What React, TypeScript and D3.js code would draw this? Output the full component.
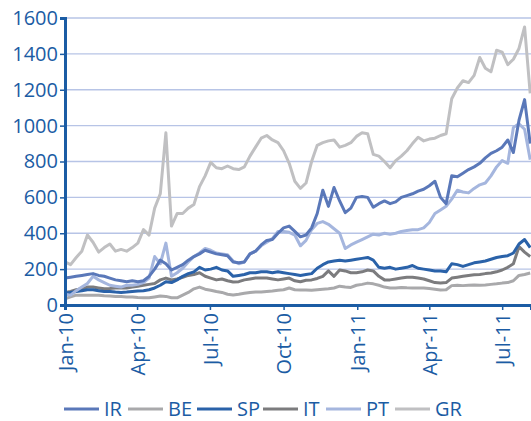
import { useEffect, useRef } from "react";
import * as d3 from "d3";

// weekly observations, starting 1 Jan 2010
const IR = [
  150, 155, 160, 165, 170, 175, 165, 160, 150, 140, 135, 130, 135, 130, 135, 160,
  200, 250, 230, 195, 210, 225, 250, 270, 285, 305, 295, 285, 280, 275, 240, 235,
  240, 285, 300, 335, 360, 365, 400, 430, 440, 410, 380, 390, 430, 510, 640, 550,
  655, 580, 515, 540, 600, 605, 600, 545, 565, 580, 565, 575, 600, 610, 620, 635,
  645, 665, 690, 600, 565, 720, 715, 735, 755, 770, 790, 820, 845, 860, 880, 920,
  850, 1030, 1145, 900,
];
const BE = [
  35, 45, 55, 55, 55, 55, 55, 52, 50, 48, 47, 45, 45, 42, 40, 40,
  45, 50, 48, 40, 40, 55, 70, 90, 100, 88, 82, 75, 70, 60, 56, 60,
  65, 70, 72, 72, 75, 78, 82, 85, 95, 85, 84, 84, 82, 85, 88, 90,
  95, 105, 100, 98, 110, 115, 122, 118, 110, 100, 95, 95, 98, 96, 95, 95,
  95, 92, 88, 84, 85, 108, 110, 108, 110, 112, 110, 112, 115, 118, 122, 125,
  135, 165, 170, 178,
];
const SP = [
  65, 70, 75, 80, 85, 85, 80, 75, 75, 72, 70, 72, 75, 78, 80, 85,
  95, 110, 130, 125, 140, 160, 175, 185, 210, 195, 200, 210, 195, 190, 160, 165,
  170, 180, 180, 185, 185, 180, 185, 180, 175, 170, 165, 170, 175, 205, 225, 240,
  245, 250, 245, 250, 255, 260, 265, 250, 210, 205, 210, 200, 205, 210, 220, 205,
  200, 195, 190, 190, 185, 230, 225, 215, 225, 235, 240, 245, 255, 265, 270, 275,
  290, 340, 365, 320,
];
const IT = [
  70, 75, 85, 90, 100, 100, 95, 90, 92, 95, 95, 95, 100, 105, 110, 115,
  120, 140, 150, 140, 145, 155, 165, 170, 180, 160, 150, 140, 145, 135, 128, 130,
  140, 145, 150, 150, 150, 145, 140, 145, 150, 135, 130, 138, 140, 148, 160, 190,
  160, 195, 190, 180, 180, 185, 195, 190, 160, 140, 140, 145, 150, 155, 155, 150,
  145, 135, 125, 122, 125, 150, 155, 160, 165, 168, 170, 175, 178, 185, 195, 210,
  230, 325, 295, 270,
];
const PT = [
  60, 55, 80, 100, 120, 160, 140, 125, 110, 105, 100, 110, 110, 115, 125, 150,
  270, 230, 345, 160, 180, 205, 240, 270, 290, 315, 305, 290, 285, 280, 245, 230,
  240, 285, 300, 330, 350, 370, 410, 410, 405, 390, 330, 360, 420, 455, 465, 450,
  425, 400, 315, 335, 350, 365, 380, 395, 390, 400, 395, 400, 410, 415, 420, 420,
  430, 460, 510, 530, 550, 590, 640, 630, 625, 650, 670, 680, 720, 770, 805, 790,
  990, 1010, 980, 810,
];
const GR = [
  240, 225, 265, 300, 390, 350, 295, 320, 340, 300, 310, 300, 320, 345, 420, 390,
  540, 620, 960, 440, 510, 510, 540, 560, 660, 720, 795, 765, 760, 775, 760, 755,
  770, 830, 880, 930, 945, 920, 905, 860, 790, 690, 650, 680, 800, 890, 905, 915,
  920, 880, 890, 905, 940, 960, 955, 840, 830, 800, 765, 805, 830, 860, 900, 935,
  915, 925, 930, 945, 955, 1150, 1210, 1250, 1240, 1280, 1380, 1320, 1300, 1420, 1410, 1340,
  1370, 1430, 1550, 1180,
];

const yTicks = [0, 200, 400, 600, 800, 1000, 1200, 1400, 1600];
const xTickLabels = ["Jan-10", "Apr-10", "Jul-10", "Oct-10", "Jan-11", "Apr-11", "Jul-11"];

const series = [
  { name: "IR", values: IR, color: "#5a78b9" },
  { name: "BE", values: BE, color: "#a9a9ab" },
  { name: "SP", values: SP, color: "#2a62a9" },
  { name: "IT", values: IT, color: "#7c7c7e" },
  { name: "PT", values: PT, color: "#a5b6de" },
  { name: "GR", values: GR, color: "#c0c0c2" },
];
// draw order: top lines under lower ones as in the source
const drawOrder = ["GR", "BE", "IT", "SP", "PT", "IR"];

const blue = "#1b5ca4";
const font = "'Open Sans', sans-serif";

function renderChart(element: SVGSVGElement) {
  const svg = d3.select(element);
  svg.selectAll("*").remove();

  const start = new Date(2010, 0, 1);
  const dates = IR.map((_, i) => d3.timeDay.offset(start, i * 7));

  const x = d3.scaleTime().domain([start, new Date(2011, 7, 6)]).range([65, 531]);
  const y = d3.scaleLinear().domain([0, 1600]).range([305, 18]);

  // gridlines
  svg
    .append("g")
    .selectAll("line")
    .data(yTicks.filter((d) => d > 0))
    .join("line")
    .attr("x1", 66)
    .attr("x2", 531)
    .attr("y1", (d) => y(d))
    .attr("y2", (d) => y(d))
    .attr("stroke", "#b7c4e6")
    .attr("stroke-width", 1.4);

  // lines
  const line = d3
    .line<number>()
    .x((_, i) => x(dates[i]))
    .y((d) => y(d));

  drawOrder.forEach((name) => {
    const s = series.find((d) => d.name === name)!;
    svg
      .append("path")
      .datum(s.values)
      .attr("fill", "none")
      .attr("stroke", s.color)
      .attr("stroke-width", 3)
      .attr("stroke-linejoin", "round")
      .attr("d", line);
  });

  // y axis
  const yAxis = svg
    .append("g")
    .attr("transform", "translate(65,0)")
    .call(
      d3
        .axisLeft(y)
        .tickValues(yTicks)
        .tickSize(5)
        .tickPadding(2)
        .tickFormat(d3.format("d"))
    );
  yAxis.select(".domain").attr("stroke", blue).attr("stroke-width", 3);
  yAxis.selectAll(".tick line").attr("stroke", blue).attr("stroke-width", 1.5);
  yAxis
    .selectAll(".tick text")
    .attr("fill", blue)
    .style("font-family", font)
    .style("font-size", "20px");

  // x axis
  const monthTicks = d3.timeMonth.every(3)!.range(start, new Date(2011, 7, 2));
  const xAxis = svg
    .append("g")
    .attr("transform", "translate(0,305)")
    .call(
      d3
        .axisBottom(x)
        .tickValues(monthTicks)
        .tickSize(5)
        .tickFormat((_, i) => xTickLabels[i])
    );
  xAxis.select(".domain").attr("stroke", blue).attr("stroke-width", 3);
  xAxis.selectAll(".tick line").attr("stroke", blue).attr("stroke-width", 1.5);
  xAxis
    .selectAll(".tick text")
    .attr("fill", blue)
    .style("font-family", font)
    .style("font-size", "20px")
    .attr("text-anchor", "end")
    .attr("transform", "rotate(-90)")
    .attr("x", -8)
    .attr("y", 0)
    .attr("dy", "0.36em");

  // legend
  const legendX = [64, 128, 197, 263, 326, 395];
  const legend = svg
    .append("g")
    .selectAll("g")
    .data(series)
    .join("g")
    .attr("transform", (_, i) => `translate(${legendX[i]},409)`);
  legend
    .append("line")
    .attr("x1", 0)
    .attr("x2", 35)
    .attr("stroke", (d) => d.color)
    .attr("stroke-width", 3);
  legend
    .append("text")
    .attr("x", 40)
    .attr("dy", "0.36em")
    .attr("fill", blue)
    .style("font-family", font)
    .style("font-size", "20px")
    .text((d) => d.name);
}

export default function App() {
  const ref = useRef<SVGSVGElement>(null);
  useEffect(() => {
    if (ref.current) renderChart(ref.current);
  }, []);
  return (
    <svg
      ref={ref}
      width={531}
      height={421}
      style={{ position: "absolute", left: 0, top: 0, background: "#fff" }}
    />
  );
}
